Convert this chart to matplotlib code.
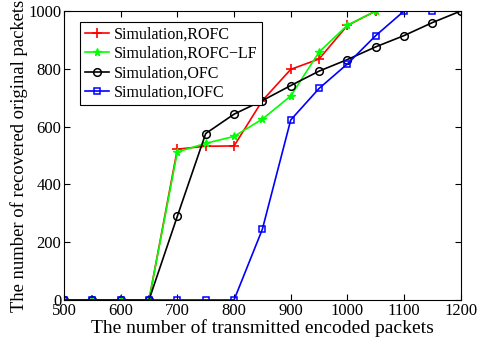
import matplotlib
matplotlib.use("Agg")
import matplotlib.pyplot as plt

plt.rcParams['font.family'] = ['Liberation Serif', 'DejaVu Serif']

x = [500, 550, 600, 650, 700, 750, 800, 850, 900, 950, 1000, 1050, 1100, 1150, 1200]

x_rofc = [500, 550, 600, 650, 700, 750, 800, 850, 900, 950, 1000, 1050]
rofc = [0, 0, 0, 0, 522, 532, 533, 690, 798, 834, 950, 1000]

x_lf = [500, 550, 600, 650, 700, 750, 800, 850, 900, 950, 1000, 1050]
rofc_lf = [0, 0, 0, 0, 512, 542, 566, 626, 706, 858, 951, 1000]

ofc = [0, 0, 0, 0, 290, 576, 643, 690, 742, 792, 832, 876, 915, 960, 1000]

x_iofc = [500, 550, 600, 650, 700, 750, 800, 850, 900, 950, 1000, 1050, 1100, 1150]
iofc = [0, 0, 0, 0, 0, 0, 0, 245, 623, 732, 817, 915, 1000, 1000]

fig = plt.figure(figsize=(4.81, 3.44), dpi=100)
ax = fig.add_axes([0.133, 0.128, 0.825, 0.84])

ax.plot(x_rofc, rofc, color='red', marker='+', markersize=7, mew=1.2, lw=1.2, label='Simulation,ROFC')
ax.plot(x_lf, rofc_lf, color='#00ff00', marker='*', markersize=5.5, lw=1.2, label='Simulation,ROFC\u2212LF')
ax.plot(x, ofc, color='black', marker='o', markersize=5.5, mfc='none', mew=1.1, lw=1.2, label='Simulation,OFC')
ax.plot(x_iofc, iofc, color='blue', marker='s', markersize=4.2, mfc='none', mew=1.1, lw=1.2, label='Simulation,IOFC')

ax.set_xlim(500, 1200)
ax.set_ylim(0, 1000)
ax.set_xticks(range(500, 1201, 100))
ax.set_yticks(range(0, 1001, 200))
ax.tick_params(direction='in', top=True, right=True, labelsize=12, length=4, pad=2)
ax.set_xlabel('The number of transmitted encoded packets', fontsize=14, labelpad=0)
ax.set_ylabel('The number of recovered original packets', fontsize=13.4, labelpad=0)

leg = ax.legend(loc='upper left', fontsize=11.5, fancybox=False, framealpha=1,
                edgecolor='black', handlelength=1.5, borderpad=0.3,
                labelspacing=0.2, handletextpad=0.3, borderaxespad=0,
                bbox_to_anchor=(0.04, 0.962))
leg.get_frame().set_linewidth(0.8)

fig.savefig('out.png', dpi=100)
